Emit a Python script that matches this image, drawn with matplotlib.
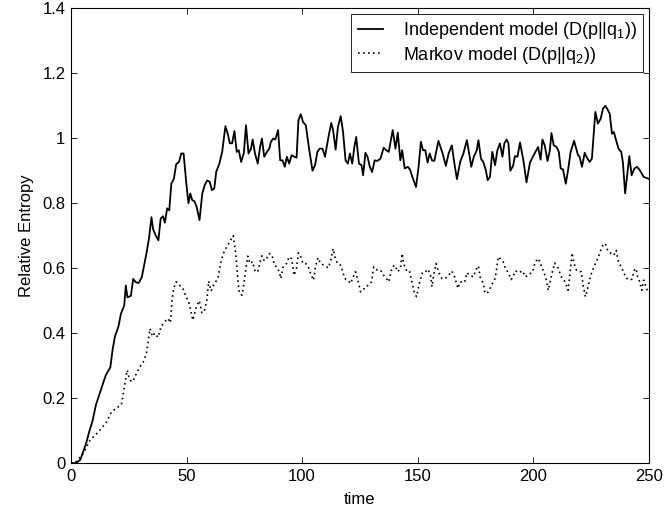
import matplotlib
matplotlib.use("Agg")
import matplotlib.pyplot as plt

plt.rcParams['font.family'] = ['Liberation Sans', 'DejaVu Sans']
plt.rcParams['mathtext.fontset'] = 'custom'
plt.rcParams['mathtext.rm'] = 'Liberation Sans'
plt.rcParams['mathtext.it'] = 'Liberation Sans'

# independent model D(p||q1)
t_indep = [0, 2, 4, 6.5, 8, 9.3, 10.8, 12.2, 13.6, 15, 17, 18, 19, 20.5, 21.6, 23, 23.7, 24.4,
           25.9, 26.9, 28, 29.2, 30.6, 31.6, 32.6, 33.8, 34.8, 35.5, 36.7, 37.8, 38.8, 39.8,
           40.6, 41.6, 42.5, 43.4, 44.5, 45.5, 46.7, 47.7, 48.7, 49.9, 50.8, 51.6, 52.4, 53.4,
           54.3, 55.6, 56.8, 57.8, 58.9, 60, 61, 62, 62.8, 64.2, 65.4, 66.8, 67.8, 68.7, 69.7,
           70.7, 71.7, 72.6, 73.6, 74.8, 75.7, 76.8, 77.9, 78.6, 79.6, 80.8, 81.8, 82.6, 83.6,
           84.8, 85.8, 86.5, 87.5, 88.4, 89.6, 90.5, 91.5, 92.5, 93.4, 94.4, 95.5, 96.6, 97.6,
           98.4, 99.4, 100.4, 101.6, 103, 104.5, 105.6, 106.6, 107.6, 108.8, 109.9, 111.4,
           112.6, 113.4, 114.5, 115.5, 116.7, 117.7, 118.8, 119.8, 120.7, 121.7, 122.6, 123.4,
           124.6, 125.7, 126.4, 127.4, 128.3, 129.3, 130.3, 131.4, 132.5, 133.9, 135.3, 136.4,
           137.5, 139.2, 140.4, 141.4, 142.5, 143.3, 144.4, 145.8, 146.8, 147.6, 149.3, 150.4,
           151.4, 152.3, 153.3, 154.3, 155.2, 156.2, 157.2, 159, 160.8, 162.2, 163.4, 164.8,
           165.9, 167, 168.4, 169.8, 171.3, 172.3, 173.2, 174.3, 175.6, 176.3, 177.4, 178.4,
           179.5, 180.3, 181.3, 182.3, 183.5, 184.5, 185.6, 186.7, 187.5, 188.5, 189.3, 190.1,
           191.3, 192.1, 193.2, 194.3, 195.8, 197.1, 198.6, 200, 202.1, 203.2, 204, 205, 206.2,
           207.2, 207.9, 208.9, 210.1, 211.1, 211.9, 212.9, 214.1, 215.1, 216.2, 217.7, 218.4,
           219.4, 220.1, 221.1, 222.3, 223.3, 224.4, 225.4, 226.9, 228, 229.2, 230.2, 231.2,
           232, 233.1, 234.1, 234.9, 235.9, 236.9, 238.1, 238.8, 239.8, 240.6, 241.6, 242.6,
           243.8, 244.9, 245.9, 246.6, 247.8, 250]
y_indep = [0, 0, 0.01, 0.06, 0.10, 0.13, 0.18, 0.21, 0.24, 0.27, 0.295, 0.35, 0.39, 0.42, 0.46,
           0.485, 0.547, 0.51, 0.515, 0.567, 0.557, 0.554, 0.572, 0.608, 0.644, 0.695, 0.757,
           0.72, 0.70, 0.686, 0.753, 0.76, 0.74, 0.784, 0.778, 0.86, 0.875, 0.92, 0.927, 0.953,
           0.953, 0.86, 0.80, 0.83, 0.81, 0.806, 0.79, 0.748, 0.83, 0.855, 0.87, 0.866, 0.84,
           0.846, 0.896, 0.922, 0.958, 1.037, 1.014, 0.985, 0.984, 1.022, 0.958, 0.963, 0.927,
           0.955, 1.04, 0.953, 0.968, 0.996, 0.953, 0.922, 0.973, 0.999, 0.943, 0.958, 0.968,
           0.989, 0.999, 0.996, 1.025, 0.932, 0.932, 0.912, 0.943, 0.922, 0.948, 0.943, 0.94,
           1.055, 1.074, 1.05, 1.04, 0.968, 0.90, 0.917, 0.958, 0.968, 0.968, 0.943, 1.004,
           1.047, 1.025, 0.965, 1.035, 1.068, 1.02, 0.932, 0.922, 0.953, 0.922, 0.973, 1.004,
           0.922, 0.917, 0.886, 0.955, 0.943, 0.912, 0.896, 0.932, 0.93, 0.937, 0.971, 0.963,
           0.958, 1.025, 0.968, 1.017, 0.932, 0.963, 0.907, 0.912, 0.902, 0.883, 0.85, 0.912,
           0.989, 0.963, 0.963, 0.925, 0.953, 0.932, 0.93, 0.992, 0.953, 0.915, 0.953, 0.978,
           0.922, 0.874, 0.927, 0.953, 0.994, 0.953, 0.912, 0.943, 0.963, 0.994, 0.937, 0.927,
           0.902, 0.871, 0.881, 0.958, 0.917, 0.963, 0.984, 0.943, 0.984, 0.996, 0.984, 0.90,
           0.915, 0.945, 0.943, 0.987, 0.93, 0.864, 0.925, 0.945, 0.973, 0.934, 0.996, 0.978,
           0.93, 0.963, 1.016, 0.978, 0.973, 0.958, 0.907, 0.904, 0.86, 0.902, 0.958, 0.992,
           0.973, 0.948, 0.943, 0.912, 0.955, 0.94, 0.927, 0.937, 1.081, 1.045, 1.06, 1.091,
           1.10, 1.091, 1.076, 1.014, 1.019, 0.994, 0.968, 0.958, 0.927, 0.83, 0.881, 0.945,
           0.886, 0.907, 0.912, 0.904, 0.896, 0.881, 0.875]

# markov model D(p||q2)
t_markov = [0, 1.7, 5.3, 8.2, 11, 13.2, 15.4, 17.5, 20.4, 21.8, 23.3, 24.3, 25, 26.1, 27, 28.3,
            29.7, 31.2, 32.6, 34.2, 35.2, 36.2, 37.6, 39, 40.5, 42, 43, 43.7, 44.4, 45.5, 46.9,
            48.4, 49.8, 50.9, 51.8, 52.7, 54.2, 55.5, 56.6, 57.6, 58.7, 59.6, 60.6, 62, 63.5,
            64.7, 65.9, 67.4, 68.5, 70.2, 71.2, 71.8, 72.4, 72.9, 74, 74.7, 75.7, 76.5, 77.4,
            78.6, 79.7, 80.8, 81.8, 82.6, 83.6, 84.8, 85.8, 87, 88, 89, 90.1, 90.8, 91.8, 93.2,
            94.4, 95.5, 96.5, 97.6, 98.4, 99.4, 100.4, 101.6, 102.7, 103.7, 104.9, 105.9, 106.9,
            108, 109.5, 111.4, 112.4, 113.4, 114.2, 115.3, 116.7, 117.8, 118.8, 119.8, 121,
            122.1, 123.1, 124.3, 125.3, 126.3, 127.4, 128.9, 130, 131, 132.5, 133.9, 135.3,
            136.4, 137.5, 139, 140.1, 141.4, 142.5, 143.3, 143.9, 145.1, 146.4, 147.5, 148.5,
            149.5, 150.7, 151.9, 153, 154.2, 155.5, 156.2, 156.9, 158, 159, 160.5, 161.9, 163.4,
            164.8, 166, 166.7, 167.4, 168.4, 170.3, 171.3, 172.7, 174.1, 175.2, 176.3, 177,
            178.4, 179.2, 180.6, 182, 183.5, 184.2, 184.9, 186.1, 187, 188, 189.2, 190.5, 191.3,
            192.3, 193.8, 195.3, 196.7, 198.1, 199.6, 200.7, 201.9, 202.9, 203.6, 204.6, 205.7,
            206.5, 207.5, 208.3, 209.3, 210.8, 212.2, 213.4, 214.1, 215.1, 215.8, 216.8, 217.7,
            218.7, 219.7, 220.8, 221.6, 222.6, 223.4, 224.4, 225.4, 226.9, 228, 229.2, 230.2,
            231.2, 232.3, 233.8, 234.9, 235.9, 236.9, 238.1, 239.2, 240.2, 241.7, 242.7, 243.8,
            244.5, 245.2, 246.1, 247, 247.8, 249.5]
y_markov = [0, 0, 0.03, 0.07, 0.09, 0.107, 0.127, 0.158, 0.173, 0.18, 0.245, 0.286, 0.266, 0.25,
            0.255, 0.276, 0.296, 0.31, 0.337, 0.414, 0.39, 0.40, 0.387, 0.42, 0.435, 0.445,
            0.432, 0.50, 0.537, 0.558, 0.548, 0.537, 0.512, 0.496, 0.47, 0.44, 0.48, 0.50,
            0.463, 0.465, 0.50, 0.56, 0.53, 0.553, 0.567, 0.614, 0.645, 0.666, 0.68, 0.70, 0.65,
            0.60, 0.55, 0.522, 0.517, 0.547, 0.60, 0.637, 0.614, 0.62, 0.589, 0.589, 0.62,
            0.638, 0.623, 0.632, 0.645, 0.64, 0.609, 0.604, 0.589, 0.568, 0.604, 0.614, 0.635,
            0.629, 0.578, 0.60, 0.647, 0.635, 0.614, 0.614, 0.604, 0.583, 0.563, 0.609, 0.632,
            0.614, 0.609, 0.601, 0.625, 0.66, 0.635, 0.614, 0.609, 0.583, 0.566, 0.563, 0.553,
            0.573, 0.589, 0.558, 0.527, 0.532, 0.543, 0.548, 0.558, 0.604, 0.594, 0.594, 0.578,
            0.569, 0.558, 0.604, 0.609, 0.589, 0.599, 0.645, 0.614, 0.594, 0.594, 0.558, 0.527,
            0.512, 0.553, 0.584, 0.584, 0.597, 0.584, 0.543, 0.578, 0.614, 0.589, 0.568, 0.568,
            0.578, 0.591, 0.573, 0.555, 0.538, 0.558, 0.556, 0.586, 0.578, 0.573, 0.594, 0.607,
            0.573, 0.553, 0.522, 0.527, 0.548, 0.568, 0.599, 0.635, 0.627, 0.62, 0.599, 0.586,
            0.565, 0.575, 0.592, 0.586, 0.592, 0.573, 0.582, 0.586, 0.614, 0.63, 0.62, 0.604,
            0.589, 0.563, 0.532, 0.563, 0.589, 0.616, 0.60, 0.573, 0.563, 0.553, 0.532, 0.573,
            0.647, 0.614, 0.594, 0.589, 0.589, 0.548, 0.512, 0.532, 0.563, 0.589, 0.614, 0.63,
            0.655, 0.671, 0.676, 0.653, 0.645, 0.64, 0.655, 0.62, 0.604, 0.586, 0.57, 0.563,
            0.566, 0.594, 0.599, 0.573, 0.558, 0.532, 0.563, 0.53]

x_ticks = [0, 50, 100, 150, 200, 250]
y_ticks = [0, 0.2, 0.4, 0.6, 0.8, 1.0, 1.2, 1.4]
y_ticklabels = ['0', '0.2', '0.4', '0.6', '0.8', '1', '1.2', '1.4']

fig = plt.figure(figsize=(6.64, 5.18), dpi=100)
ax = fig.add_axes([0.107, 0.106, 0.870, 0.878])

ax.plot(t_indep, y_indep, color='black', linewidth=1.3, label='Independent model (D(p||q$_1$))')
ax.plot(t_markov, y_markov, color='black', linewidth=1.2, linestyle=(0, (1, 2)),
        label='Markov model (D(p||q$_2$))')

ax.set_xlim(0, 250)
ax.set_ylim(0, 1.4)
ax.set_xticks(x_ticks)
ax.set_yticks(y_ticks)
ax.set_yticklabels(y_ticklabels)
ax.tick_params(direction='in', length=4, width=0.6, labelsize=12, top=True, right=True, pad=4)
for s in ax.spines.values():
    s.set_linewidth(0.8)

ax.set_xlabel('time', fontsize=12, labelpad=6)
ax.set_ylabel('Relative Entropy', fontsize=12, labelpad=6)

leg = ax.legend(loc='upper right', fontsize=13, frameon=True, fancybox=False, framealpha=1,
                edgecolor='black', handlelength=1.4, borderpad=0.35, labelspacing=0.2,
                handletextpad=1.1, borderaxespad=0.3)
leg.get_frame().set_linewidth(0.6)

fig.savefig('out.png', dpi=100)
